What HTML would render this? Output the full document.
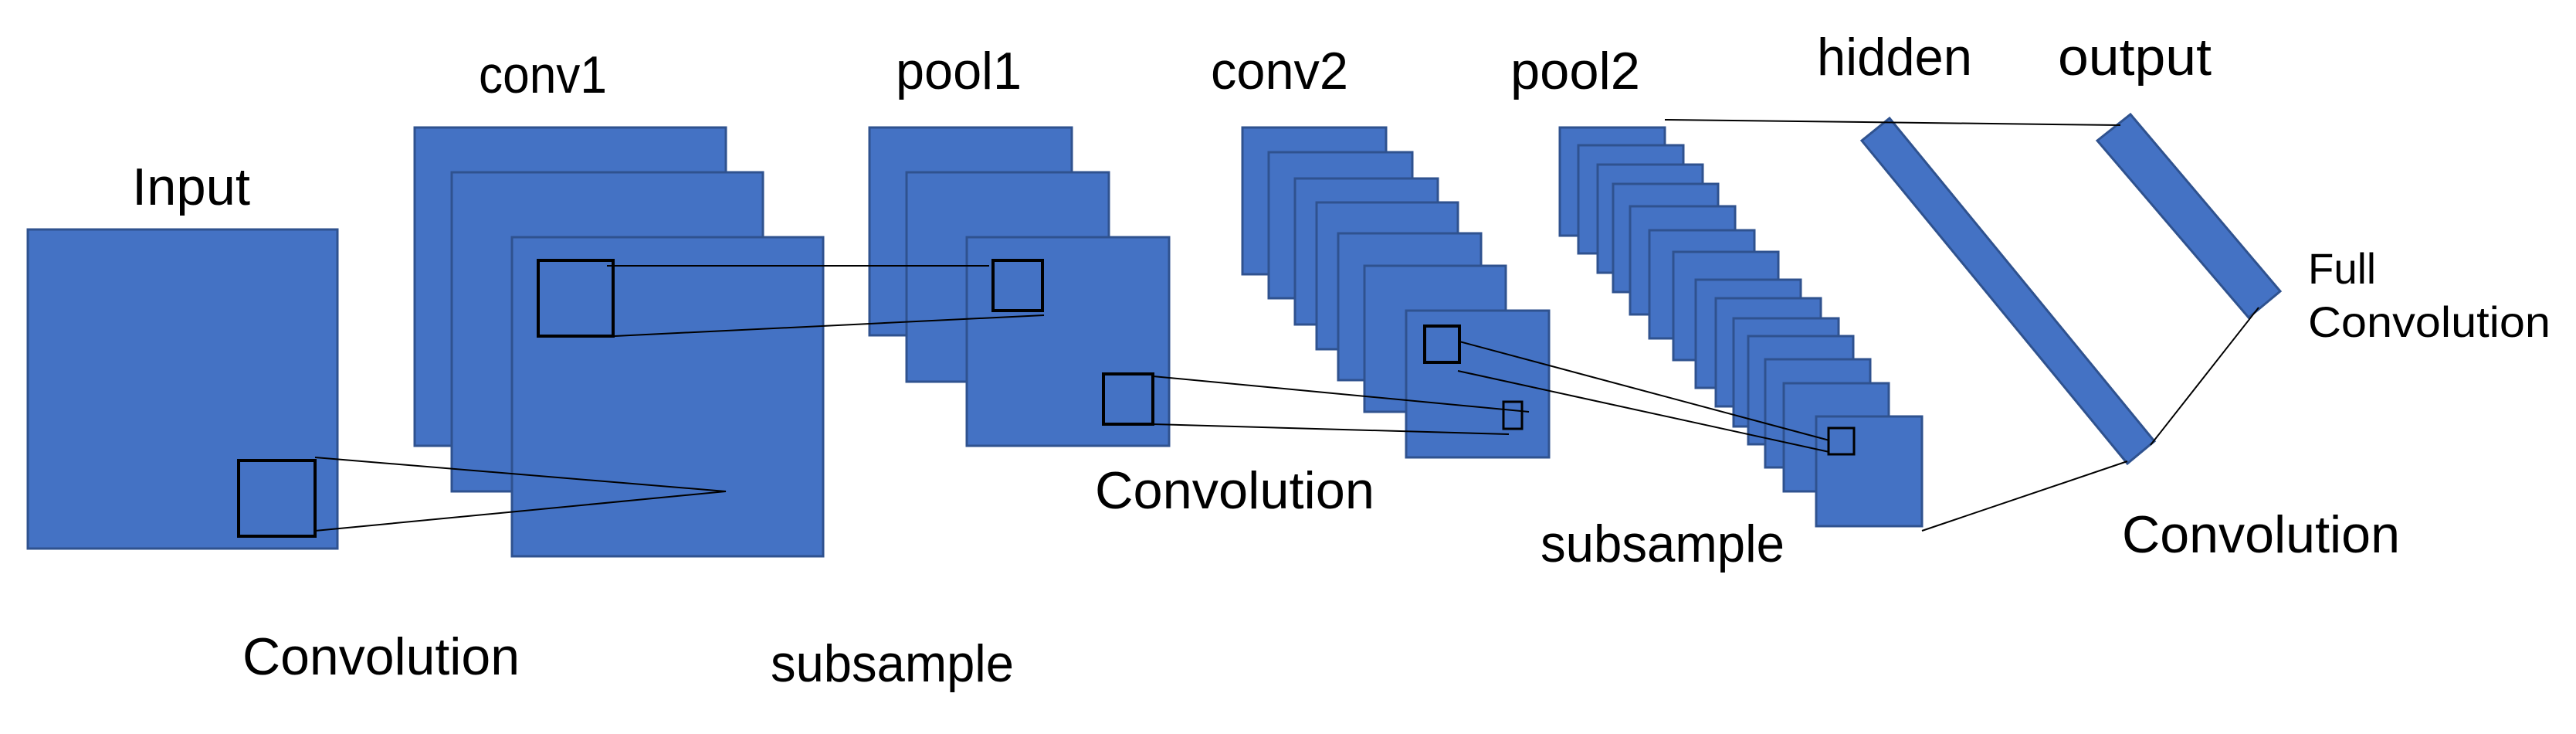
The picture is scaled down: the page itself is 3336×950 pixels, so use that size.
<!DOCTYPE html>
<html><head><meta charset="utf-8"><style>
html,body{margin:0;padding:0;background:#fff}
svg{display:block}
text{font-family:"Liberation Sans",sans-serif;fill:#000}
</style></head><body>
<svg width="3336" height="950" viewBox="0 0 3336 950" xmlns="http://www.w3.org/2000/svg">
<g fill="#4472C4" stroke="#2F528F" stroke-width="3">
<rect x="36" y="297" width="401" height="413"/>
<rect x="537" y="165" width="403" height="412"/>
<rect x="585" y="223" width="403" height="413"/>
<rect x="663" y="307" width="403" height="413"/>
<rect x="1126" y="165" width="262" height="269"/>
<rect x="1174" y="223" width="262" height="271"/>
<rect x="1252" y="307" width="262" height="270"/>
<rect x="1609" y="165" width="186" height="190"/>
<rect x="1643" y="197" width="186" height="189"/>
<rect x="1677" y="231" width="185" height="189"/>
<rect x="1705" y="262" width="183" height="190"/>
<rect x="1733" y="302" width="185" height="190"/>
<rect x="1767" y="344" width="183" height="189"/>
<rect x="1821" y="402" width="185" height="190"/>
<rect x="2020" y="165" width="136" height="140"/>
<rect x="2044" y="188" width="136" height="140"/>
<rect x="2069" y="213" width="136" height="140"/>
<rect x="2089" y="238" width="136" height="140"/>
<rect x="2111" y="267" width="136" height="140"/>
<rect x="2136" y="298" width="136" height="140"/>
<rect x="2167" y="326" width="136" height="140"/>
<rect x="2196" y="362" width="136" height="140"/>
<rect x="2222" y="386" width="136" height="140"/>
<rect x="2245" y="412" width="136" height="140"/>
<rect x="2264" y="435" width="136" height="140"/>
<rect x="2286" y="465" width="136" height="140"/>
<rect x="2310" y="496" width="136" height="140"/>
<rect x="2352" y="539" width="137" height="142"/>
<polygon points="2411,182 2447,153 2790,571 2755,600"/>
<polygon points="2716,182 2759,148 2953,377 2912,411"/>
</g>
<g fill="none" stroke="#000" stroke-width="4">
<rect x="309" y="596" width="99" height="98"/>
<rect x="697" y="337" width="97" height="98"/>
<rect x="1286" y="337" width="64" height="65"/>
<rect x="1429" y="484" width="64" height="65"/>
<rect x="1845" y="422" width="45" height="47"/>
<rect x="1947" y="520" width="24" height="35" stroke-width="3"/>
<rect x="2368" y="554" width="33" height="34" stroke-width="3"/>
</g>
<g fill="none" stroke="#000" stroke-width="2">
<polyline points="408,592 940,636 408,687"/>
<line x1="786" y1="344" x2="1281" y2="344"/>
<line x1="796" y1="435" x2="1352" y2="408"/>
<line x1="1493" y1="487" x2="1980" y2="533"/>
<line x1="1493" y1="549" x2="1954" y2="562"/>
<line x1="1890" y1="442" x2="2369" y2="570"/>
<line x1="1888" y1="480" x2="2369" y2="585"/>
<line x1="2156" y1="155" x2="2746" y2="162"/>
<line x1="2925" y1="398" x2="2785" y2="576"/>
<line x1="2755" y1="597" x2="2489" y2="687"/>
</g>
<g font-size="68">
<text x="171" y="265" textLength="153" lengthAdjust="spacingAndGlyphs">Input</text>
<text x="620" y="120" textLength="166" lengthAdjust="spacingAndGlyphs">conv1</text>
<text x="1160" y="115" textLength="163" lengthAdjust="spacingAndGlyphs">pool1</text>
<text x="1568" y="115" textLength="178" lengthAdjust="spacingAndGlyphs">conv2</text>
<text x="1956" y="115" textLength="168" lengthAdjust="spacingAndGlyphs">pool2</text>
<text x="2353" y="97" textLength="201" lengthAdjust="spacingAndGlyphs">hidden</text>
<text x="2665" y="97" textLength="199" lengthAdjust="spacingAndGlyphs">output</text>
<text x="314" y="873" textLength="359" lengthAdjust="spacingAndGlyphs">Convolution</text>
<text x="998" y="882" textLength="315" lengthAdjust="spacingAndGlyphs">subsample</text>
<text x="1418" y="658" textLength="362" lengthAdjust="spacingAndGlyphs">Convolution</text>
<text x="1995" y="727" textLength="316" lengthAdjust="spacingAndGlyphs">subsample</text>
<text x="2748" y="715" textLength="360" lengthAdjust="spacingAndGlyphs">Convolution</text>
</g>
<g font-size="56">
<text x="2989" y="367" textLength="88" lengthAdjust="spacingAndGlyphs">Full</text>
<text x="2989" y="436" textLength="314" lengthAdjust="spacingAndGlyphs">Convolution</text>
</g>
</svg>
</body></html>
